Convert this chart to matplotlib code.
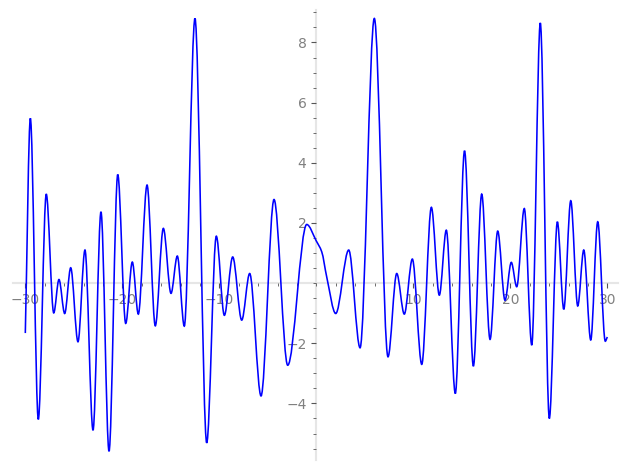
import matplotlib.pyplot as plt
from matplotlib.path import Path
from matplotlib.patches import PathPatch
from matplotlib.ticker import MultipleLocator, FixedLocator

# curve: extrema plus a few slope points
xs = [-30.0, -29.48, -28.66, -27.84, -27.07, -26.53, -25.94, -25.32, -24.57, -23.85,
      -23.02, -22.20, -21.37, -20.47, -19.65, -18.97, -18.35, -17.45, -16.60, -15.77,
      -14.98, -14.33, -13.61, -12.51, -11.30, -10.31, -9.48, -8.62, -7.69, -6.87,
      -5.70, -4.36, -2.95, -0.99, 0.0, 0.56, 1.07, 2.0, 3.34, 4.51,
      5.98, 7.39, 8.29, 9.07, 9.90, 10.87, 11.86, 12.68, 13.40, 14.33,
      15.28, 16.19, 17.05, 17.91, 18.70, 19.45, 20.10, 20.66, 21.44, 22.21,
      23.09, 24.02, 24.85, 25.51, 26.23, 26.95, 27.57, 28.29, 29.01, 29.79, 30.0]
ys = [-1.66, 5.48, -4.53, 2.96, -0.99, 0.12, -1.01, 0.51, -1.95, 1.10,
      -4.89, 2.37, -5.59, 3.61, -1.34, 0.70, -1.03, 3.26, -1.42, 1.82,
      -0.34, 0.90, -1.43, 8.80, -5.31, 1.56, -1.07, 0.87, -1.23, 0.32,
      -3.75, 2.78, -2.73, 1.95, 1.4, 1.04, 0.21, -1.01, 1.10, -2.15,
      8.80, -2.45, 0.32, -1.03, 0.80, -2.70, 2.52, -0.40, 1.76, -3.67,
      4.40, -2.76, 2.96, -1.87, 1.73, -0.57, 0.69, -0.12, 2.48, -2.06,
      8.65, -4.50, 2.04, -0.87, 2.74, -0.76, 1.10, -1.89, 2.04, -1.93, -1.79]

xtick_vals = [-30, -20, -10, 10, 20, 30]
ytick_vals = [-4, -2, 2, 4, 6, 8]


def slopes(x, y):
    n = len(x)
    sec = [(y[i + 1] - y[i]) / (x[i + 1] - x[i]) for i in range(n - 1)]
    m = [sec[0]]
    for i in range(1, n - 1):
        a, b = sec[i - 1], sec[i]
        if a * b <= 0:
            m.append(0.0)
        else:
            m.append(2 * a * b / (a + b))
    m.append(sec[-1])
    return m


m = slopes(xs, ys)
verts = [(xs[0], ys[0])]
codes = [Path.MOVETO]
for i in range(len(xs) - 1):
    h = (xs[i + 1] - xs[i]) / 3
    verts += [(xs[i] + h, ys[i] + m[i] * h),
              (xs[i + 1] - h, ys[i + 1] - m[i + 1] * h),
              (xs[i + 1], ys[i + 1])]
    codes += [Path.CURVE4] * 3

fig = plt.figure(figsize=(6.27, 4.70), dpi=100)
ax = fig.add_axes([12.7 / 627, 10 / 470, 605.3 / 627, 450 / 470])

ax.add_patch(PathPatch(Path(verts, codes), facecolor='none',
                       edgecolor='#0000ff', lw=1.15, zorder=3))

ax.set_xlim(-31.3, 31.1)
ax.set_ylim(-5.88, 9.08)

for s in ['top', 'right']:
    ax.spines[s].set_visible(False)
ax.spines['left'].set_position(('data', 0))
ax.spines['bottom'].set_position(('data', 0))
for s in ['left', 'bottom']:
    ax.spines[s].set_color('#e6e6e6')
    ax.spines[s].set_linewidth(1.5)
    ax.spines[s].set_zorder(1)

ax.xaxis.set_major_locator(FixedLocator(xtick_vals))
ax.yaxis.set_major_locator(FixedLocator(ytick_vals))
ax.xaxis.set_minor_locator(MultipleLocator(2))
ax.yaxis.set_minor_locator(MultipleLocator(0.5))

ax.tick_params(which='major', direction='out', length=3.6, width=0.8,
               color='#555555', labelcolor='#808080', labelsize=10, pad=3.5)
ax.tick_params(which='minor', direction='out', length=2.0, width=0.6,
               color='#555555')

plt.savefig('out.png', dpi=100)
